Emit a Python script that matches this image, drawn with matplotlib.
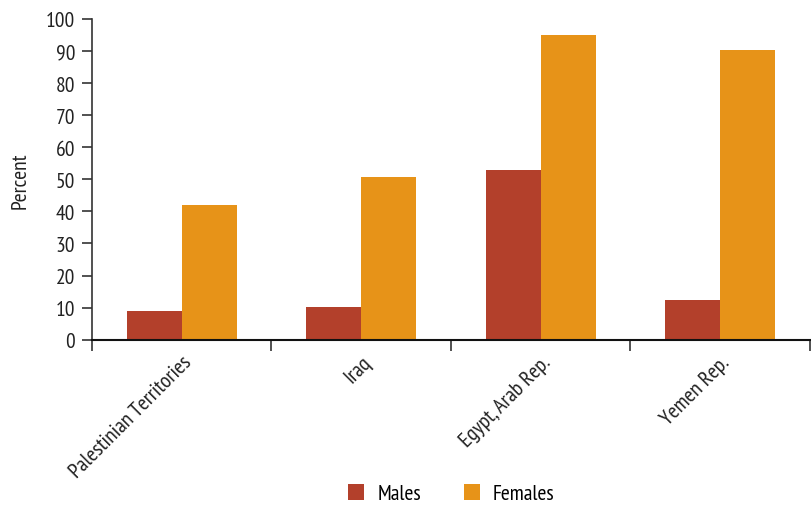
import matplotlib.pyplot as plt
import numpy as np

countries = ["Palestinian Territories", "Iraq", "Egypt, Arab Rep.", "Yemen Rep."]
males = [9.0, 10.3, 52.9, 12.4]
females = [42.0, 50.7, 95.0, 90.3]

plt.rcParams['font.family'] = ['PT Sans Narrow', 'DejaVu Sans']

c_m = "#b3402b"
c_f = "#e79318"
axc = "#333333"
txt = "#222222"

fig = plt.figure(figsize=(8.12, 5.06), dpi=100)
ax = fig.add_axes([0.1133, 0.3267, 0.8842, 0.6338])

x = np.arange(len(countries))
w = 0.306
ax.bar(x - w / 2, males, w, color=c_m, label="Males")
ax.bar(x + w / 2, females, w, color=c_f, label="Females")

ax.set_xlim(-0.5, len(countries) - 0.5)
ax.set_ylim(0, 100)
ax.set_yticks(np.arange(0, 101, 10))
ax.set_xticks(np.arange(-0.5, len(countries), 1.0))
ax.set_xticklabels([])
ax.set_xticks(x, minor=True)
ax.set_xticklabels(countries, minor=True, rotation=45, ha="right",
                   rotation_mode="anchor", fontsize=15.5, color=txt)
ax.tick_params(axis="x", which="minor", length=0, pad=9)
ax.tick_params(axis="x", which="major", length=8, width=1.2, color=axc, direction="out")
ax.tick_params(axis="y", length=7, width=1.2, color=axc, labelsize=15.5,
               labelcolor=txt, pad=5)
for s in ["top", "right"]:
    ax.spines[s].set_visible(False)
ax.spines["left"].set_color(axc)
ax.spines["left"].set_linewidth(1.2)
ax.spines["bottom"].set_color("#111111")
ax.spines["bottom"].set_linewidth(1.5)
ax.set_ylabel("Percent", fontsize=15.5, color=txt, labelpad=12)

fig.legend(loc="lower center", bbox_to_anchor=(0.556, -0.035), ncol=2, frameon=False,
           fontsize=15.5, handlelength=0.75, handleheight=0.75, columnspacing=2.0,
           handletextpad=0.6)

fig.savefig("out.png", dpi=100)
